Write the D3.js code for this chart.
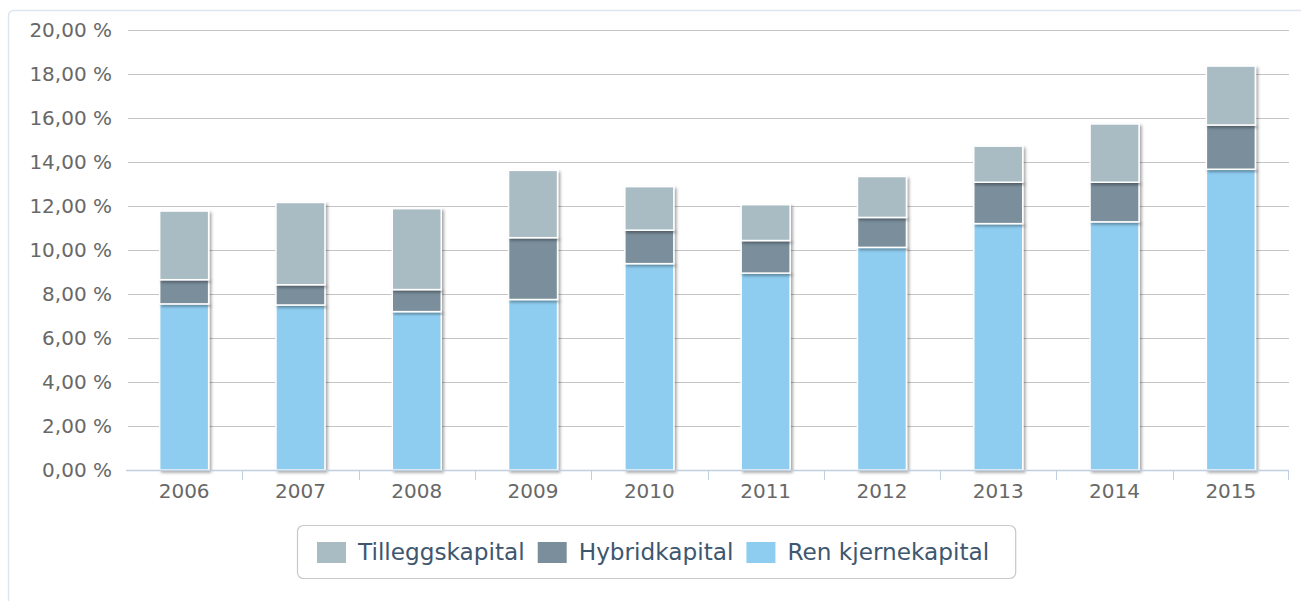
<!DOCTYPE html>
<html>
<head>
<meta charset="utf-8">
<script src="https://d3js.org/d3.v7.min.js"></script>
<style>
  html, body { margin: 0; padding: 0; background: #fff; }
  svg { display: block; font-family: "DejaVu Sans", "Lucida Grande", sans-serif; }
  .ylabel, .xlabel { fill: #686868; font-size: 20px; }
  .legend-text { fill: #3e576f; font-size: 23.2px; }
</style>
</head>
<body>
<svg id="chart"></svg>
<script>
// Data (percent, each stack segment)
var years = ["2006", "2007", "2008", "2009", "2010", "2011", "2012", "2013", "2014", "2015"];
var renKjerne = [7.55, 7.5, 7.2, 7.75, 9.38, 8.95, 10.12, 11.2, 11.28, 13.67];
var hybrid = [1.1, 0.92, 1.0, 2.81, 1.52, 1.48, 1.36, 1.88, 1.8, 2.01];
var tillegg = [3.12, 3.74, 3.68, 3.06, 1.98, 1.63, 1.86, 1.64, 2.65, 2.68];
var yTicks = [0, 2, 4, 6, 8, 10, 12, 14, 16, 18, 20];

var seriesNames = ["Ren kjernekapital", "Hybridkapital", "Tilleggskapital"];
var seriesColors = ["#8ecdf0", "#7a8e9c", "#a9bcc4"];
var legendOrder = [2, 1, 0];

var width = 1301,
  height = 601,
  margin = { top: 30, right: 12, bottom: 131, left: 126 };

var svg = d3
  .select("#chart")
  .attr("width", width)
  .attr("height", height);

var defs = svg.append("defs");

var shadow = defs
  .append("filter")
  .attr("id", "shadow")
  .attr("x", "-20%")
  .attr("y", "-20%")
  .attr("width", "140%")
  .attr("height", "140%");

shadow
  .append("feDropShadow")
  .attr("dx", 2)
  .attr("dy", 2)
  .attr("stdDeviation", 1.5)
  .attr("flood-color", "#000")
  .attr("flood-opacity", 0.35);

// outer chart frame (runs past the right and bottom edges)
svg
  .append("rect")
  .attr("x", 8.5)
  .attr("y", 10.5)
  .attr("width", 1320)
  .attr("height", 620)
  .attr("rx", 5)
  .attr("fill", "#fff")
  .attr("stroke", "#dde5ee")
  .attr("stroke-width", 1.5);

var x = d3
  .scaleBand()
  .domain(years)
  .range([margin.left, width - margin.right]);

var y = d3
  .scaleLinear()
  .domain([0, 20])
  .range([height - margin.bottom, margin.top]);

var fmt = d3.format(".2f");

// Grid lines
svg
  .append("g")
  .selectAll("line")
  .data(yTicks.slice(1))
  .enter()
  .append("line")
  .attr("x1", x.range()[0] + 2)
  .attr("x2", x.range()[1])
  .attr("y1", function(d) {
    return Math.round(y(d)) + 0.5;
  })
  .attr("y2", function(d) {
    return Math.round(y(d)) + 0.5;
  })
  .attr("stroke", "#c4c4c4")
  .attr("stroke-width", 1);

// Y labels
svg
  .append("g")
  .selectAll("text")
  .data(yTicks)
  .enter()
  .append("text")
  .attr("class", "ylabel")
  .attr("x", 112)
  .attr("y", function(d) {
    return y(d);
  })
  .attr("dy", "0.36em")
  .attr("text-anchor", "end")
  .text(function(d) {
    return fmt(d).replace(".", ",") + " %";
  });

// Stack
var table = years.map(function(yr, i) {
  return { year: yr, s0: renKjerne[i], s1: hybrid[i], s2: tillegg[i] };
});

var stacked = d3.stack().keys(["s0", "s1", "s2"])(table);

var barWidth = 49;

var layers = svg
  .append("g")
  .selectAll("g")
  .data(stacked)
  .enter()
  .append("g")
  .attr("fill", function(d, i) {
    return seriesColors[i];
  });

layers
  .selectAll("rect")
  .data(function(d) {
    return d;
  })
  .enter()
  .append("rect")
  .attr("x", function(d) {
    return x(d.data.year) + x.bandwidth() / 2 - barWidth / 2;
  })
  .attr("y", function(d) {
    return y(d[1]);
  })
  .attr("width", barWidth)
  .attr("height", function(d) {
    return y(d[0]) - y(d[1]);
  })
  .attr("stroke", "#fff")
  .attr("stroke-width", 1.5)
  .attr("filter", "url(#shadow)");

// X axis line and ticks
var axisY = y(0);

svg
  .append("line")
  .attr("x1", x.range()[0])
  .attr("x2", x.range()[1])
  .attr("y1", axisY + 0.5)
  .attr("y2", axisY + 0.5)
  .attr("stroke", "#c0d0e0")
  .attr("stroke-width", 1.5);

svg
  .append("g")
  .selectAll("line")
  .data(years.slice(1).concat(["end"]))
  .enter()
  .append("line")
  .attr("x1", function(d) {
    return d === "end" ? x.range()[1] - 0.5 : Math.round(x(d)) + 0.5;
  })
  .attr("x2", function(d) {
    return d === "end" ? x.range()[1] - 0.5 : Math.round(x(d)) + 0.5;
  })
  .attr("y1", axisY)
  .attr("y2", axisY + 10)
  .attr("stroke", "#c0d0e0")
  .attr("stroke-width", 1);

svg
  .append("g")
  .selectAll("text")
  .data(years)
  .enter()
  .append("text")
  .attr("class", "xlabel")
  .attr("x", function(d) {
    return x(d) + x.bandwidth() / 2;
  })
  .attr("y", 498)
  .attr("text-anchor", "middle")
  .text(function(d) {
    return d;
  });

// Legend
var legend = svg.append("g").attr("class", "legend");

var legendBox = legend
  .append("rect")
  .attr("rx", 6)
  .attr("fill", "#fff")
  .attr("stroke", "#c8c8c8")
  .attr("stroke-width", 1.2);

var items = legend
  .selectAll(".item")
  .data(legendOrder)
  .enter()
  .append("g")
  .attr("class", "item");

items
  .append("rect")
  .attr("y", 542)
  .attr("width", 29)
  .attr("height", 21)
  .attr("fill", function(d) {
    return seriesColors[d];
  });

items
  .append("text")
  .attr("class", "legend-text")
  .attr("x", 41)
  .attr("y", 560)
  .text(function(d) {
    return seriesNames[d];
  });

var cursor = 0;
var itemX = [];
items.each(function(d) {
  var w = d3.select(this).select("text").node().getComputedTextLength();
  itemX.push(cursor);
  cursor += 41 + w + 13;
});
var total = cursor - 13;
var padL = 20,
  padR = 26;
var boxW = total + padL + padR;
var boxX = Math.round(656 - boxW / 2);

items.attr("transform", function(d, i) {
  return "translate(" + (boxX + padL + itemX[i]) + ",0)";
});

legendBox
  .attr("x", boxX + 0.5)
  .attr("y", 525.5)
  .attr("width", boxW)
  .attr("height", 53);
</script>
</body>
</html>
